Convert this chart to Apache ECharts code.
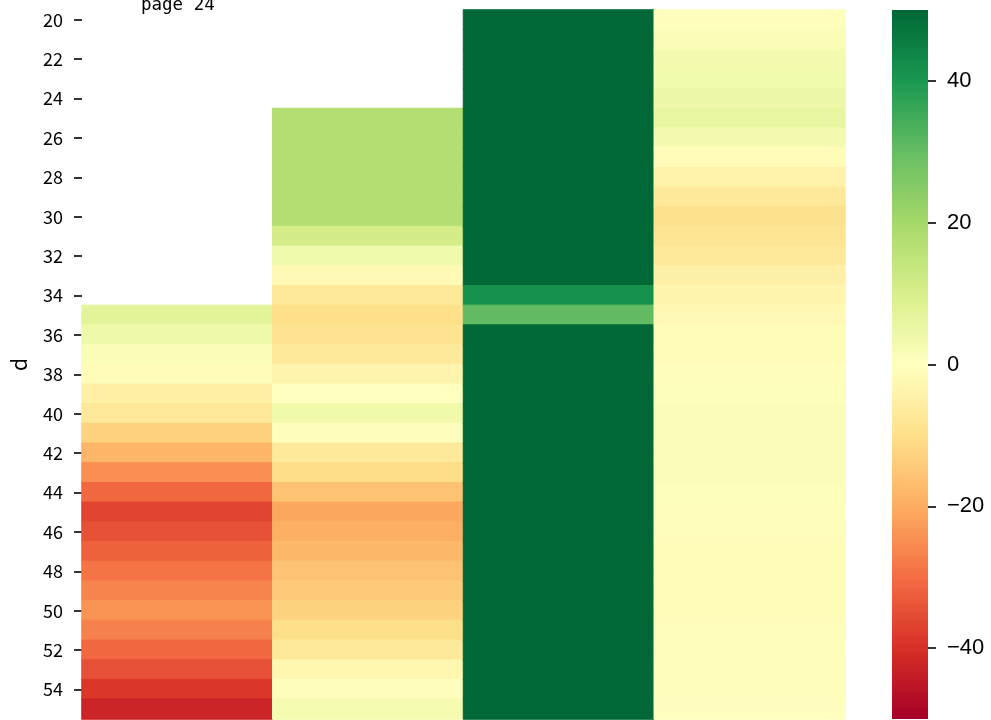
<!DOCTYPE html>
<html>
<head>
<meta charset="utf-8">
<script src="https://cdn.jsdelivr.net/npm/echarts@6/dist/echarts.min.js"></script>
<style>html,body{margin:0;padding:0;background:#fff}#c{width:991px;height:720px}</style>
</head>
<body>
<div id="c"></div>
<script>
// Row labels (y axis, top to bottom)
const rows = [20,21,22,23,24,25,26,27,28,29,30,31,32,33,34,35,36,37,38,39,40,41,42,43,44,45,46,47,48,49,50,51,52,53,54,55];
// Column categories (labels not visible in the picture)
const columns = ['c1','c2','c3','c4'];
// Cell values per column, one per row (null = empty cell)
const col1 = [null,null,null,null,null,null,null,null,null,null,null,null,null,null,null,
  7, 4, 1.5, -1.3, -4.8, -7.4, -12.8, -18.6, -24.8, -31, -36.5, -34.5, -32, -29, -26.5, -24, -27, -31, -34.8, -39, -42.2];
const col2 = [null,null,null,null,null,
  17.5, 17.5, 17.5, 17.5, 17.5, 17.5, 10.8, 3.7, -2, -7, -10, -9, -7, -3.5, 0, 3.8, -0.5, -7, -10.5, -16,
  -20.8, -19.6, -17.8, -16, -14.4, -12.6, -10, -7, -3, -0.3, 2.6];
const col3 = [50,50,50,50,50,50,50,50,50,50,50,50,50,50,41.5,30.5,
  50,50,50,50,50,50,50,50,50,50,50,50,50,50,50,50,50,50,50,50];
const col4 = [0.3, 1.3, 2.9, 3.4, 4.5, 5.8, 2.9, -1, -3.9, -7, -9.7, -8.4, -7.4, -4.7, -3.2, -1.9,
  -1.2, -1, -0.3, 0.8, 1.2, 1.2, 1.2, 1.2, 0.7, -0.5, -0.8, -1, -1, -1.2, -1, -0.8, -0.6, -0.4, -0.3, -0.2];
// Colorbar tick labels
const colorbarTicks = [-40, -20, 0, 20, 40];
const colorMin = -50, colorMax = 50;

const rdylgn = ['#a50026','#d73027','#f46d43','#fdae61','#fee08b','#ffffbf','#d9ef8b','#a6d96a','#66bd63','#1a9850','#006837'];

function cmap(v) {
  const t = Math.max(0, Math.min(1, (v - colorMin) / (colorMax - colorMin)));
  return echarts.color.lerp(t, rdylgn);
}

const cells = [];
[col1, col2, col3, col4].forEach((col, ci) => {
  col.forEach((v, ri) => {
    if (v !== null) cells.push({value: [ci, ri, v], itemStyle: {borderColor: cmap(v), borderWidth: 1}});
  });
});

const PLOT = {left: 82, top: 10, width: 763, height: 709};
const CBAR = {left: 892, top: 10, width: 36, height: 709};

const chart = echarts.init(document.getElementById('c'), null, {renderer: 'canvas'});
chart.setOption({
  animation: false,
  backgroundColor: '#fff',
  grid: [
    {left: PLOT.left, top: PLOT.top, width: PLOT.width, height: PLOT.height},
    {left: CBAR.left, top: CBAR.top, width: CBAR.width, height: CBAR.height}
  ],
  xAxis: [
    {type: 'category', data: columns, gridIndex: 0, show: false},
    {type: 'value', gridIndex: 1, show: false, min: 0, max: 1}
  ],
  yAxis: [
    {
      type: 'category', data: rows.map(String), inverse: true, gridIndex: 0,
      axisLine: {show: false},
      splitLine: {show: false},
      axisTick: {show: true, interval: 1, alignWithLabel: true, length: 8, lineStyle: {color: '#000', width: 1.6}},
      axisLabel: {interval: 1, margin: 19, fontFamily: 'Noto Sans CJK JP', fontSize: 18, color: '#000', padding: [0, 0, 3, 0]},
      name: 'd', nameLocation: 'middle', nameGap: 52, nameRotate: 90,
      nameTextStyle: {fontFamily: 'Noto Sans CJK JP', fontSize: 21, color: '#000'}
    },
    {
      type: 'value', gridIndex: 1, position: 'right', min: colorMin, max: colorMax,
      axisLine: {show: false, onZero: false},
      splitLine: {show: false},
      axisTick: {show: true, inside: false, customValues: colorbarTicks, length: 8, lineStyle: {color: '#000', width: 1.6}},
      axisLabel: {
        customValues: colorbarTicks, margin: 19,
        fontFamily: 'Liberation Sans', fontSize: 22, color: '#000',
        formatter: v => (v < 0 ? '\u2212' + Math.abs(v) : String(v))
      }
    }
  ],
  visualMap: {
    show: false,
    type: 'continuous', min: colorMin, max: colorMax, seriesIndex: 0,
    inRange: {color: rdylgn}
  },
  graphic: [
    {
      type: 'rect', left: CBAR.left, top: CBAR.top, z: 0,
      shape: {width: CBAR.width, height: CBAR.height},
      style: {
        fill: new echarts.graphic.LinearGradient(0, 1, 0, 0,
          rdylgn.map((c, i) => ({offset: i / (rdylgn.length - 1), color: c})))
      }
    },
    {
      type: 'text', left: 141, top: -4,
      style: {text: 'page 24', font: '17.5px "DejaVu Sans Mono"', fill: '#000'}
    }
  ],
  series: [{
    type: 'heatmap', xAxisIndex: 0, yAxisIndex: 0, data: cells,
    emphasis: {disabled: true},
    progressive: 0
  }]
});
</script>
</body>
</html>
